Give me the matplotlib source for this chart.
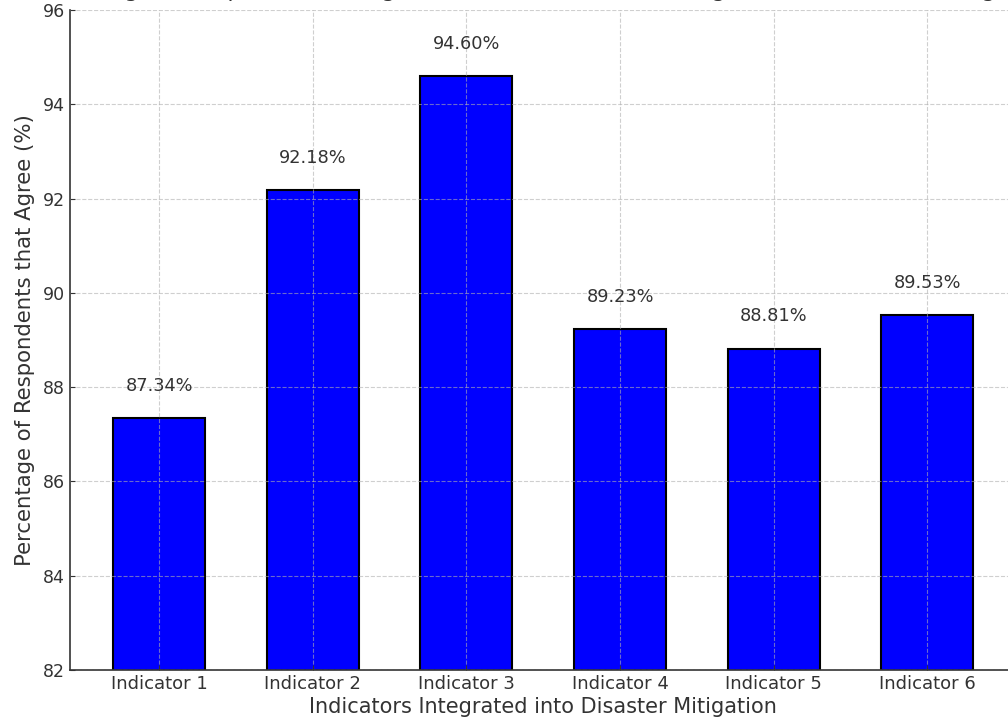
import matplotlib
matplotlib.use("Agg")
import matplotlib.pyplot as plt

indicators = ["Indicator 1", "Indicator 2", "Indicator 3",
              "Indicator 4", "Indicator 5", "Indicator 6"]
agree_pct = [87.34, 92.18, 94.60, 89.23, 88.81, 89.53]

txt = "#333333"
plt.rcParams["font.family"] = "DejaVu Sans"

fig = plt.figure(figsize=(10.08, 7.26), dpi=100)
ax = fig.add_axes([0.0694, 0.0771, 0.939, 0.909])

bars = ax.bar(indicators, agree_pct, width=0.6, color="blue", edgecolor="black", linewidth=1.5)
for b, v in zip(bars, agree_pct):
    ax.text(b.get_x() + b.get_width() / 2, v + 0.5, f"{v:.2f}%",
            ha="center", va="bottom", fontsize=12.8, color=txt)

ax.set_ylim(82, 96)
ax.set_xlabel("Indicators Integrated into Disaster Mitigation", fontsize=15, color=txt, labelpad=3)
ax.set_ylabel("Percentage of Respondents that Agree (%)", fontsize=15.3, color=txt, labelpad=6)
ax.tick_params(axis="x", direction="in", labelsize=13, colors=txt, labelcolor=txt)
ax.tick_params(axis="y", direction="in", labelsize=12.5, colors=txt, labelcolor=txt)
ax.grid(True, linestyle="--", color="#b0b0b0", alpha=0.6, linewidth=0.8)
ax.set_axisbelow(False)
for s in ["top", "right"]:
    ax.spines[s].set_visible(False)
for s in ["left", "bottom"]:
    ax.spines[s].set_color(txt)
    ax.spines[s].set_linewidth(1.2)

fig.text(0.535, 1.004, "Percentage of Respondents in Agreement with Indicators Integrated into Disaster Mitigation",
         ha="center", va="baseline", fontsize=16, color=txt)

fig.savefig("out.png", dpi=100)
